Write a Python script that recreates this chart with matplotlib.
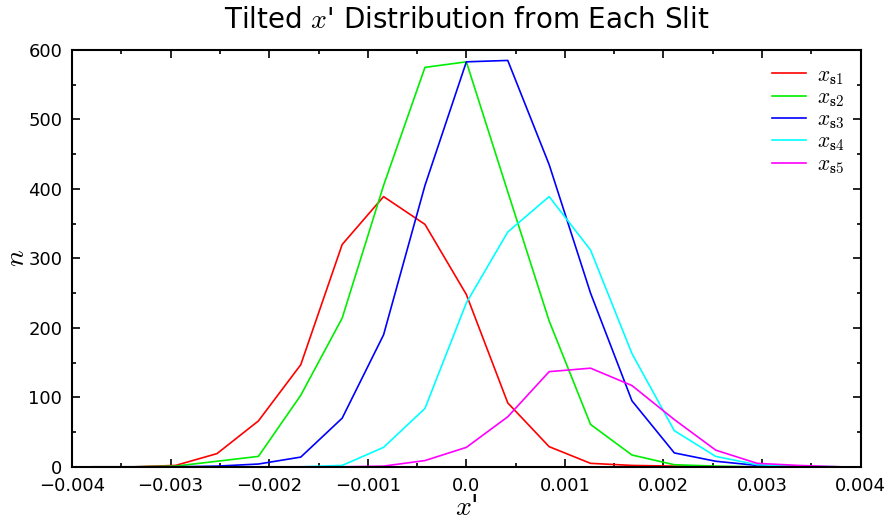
import matplotlib
matplotlib.use("Agg")
import matplotlib.pyplot as plt
from matplotlib.ticker import FixedLocator, FixedFormatter, MultipleLocator

# bin centres of x' (19 bins over -0.004..0.004)
x = [-0.00379, -0.00337, -0.00295, -0.00253, -0.00211, -0.00168, -0.00126,
     -0.00084, -0.00042, 0.0, 0.00042, 0.00084, 0.00126, 0.00168, 0.00211,
     0.00253, 0.00295, 0.00337, 0.00379]

# counts per slit
n_s1 = [0, 0, 2, 19, 66, 147, 320, 389, 349, 248, 92, 29, 5, 2, 1, 0, 0, 0, 0]
n_s2 = [0, 0, 1, 8, 15, 103, 214, 405, 575, 583, 396, 210, 61, 17, 3, 1, 0, 0, 0]
n_s3 = [0, 0, 0, 1, 4, 14, 70, 190, 405, 583, 585, 435, 250, 95, 20, 8, 2, 0, 0]
n_s4 = [0, 0, 0, 0, 0, 0, 2, 28, 84, 236, 338, 389, 312, 163, 52, 15, 3, 1, 0]
n_s5 = [0, 0, 0, 0, 0, 0, 0, 1, 9, 28, 72, 137, 142, 117, 68, 24, 5, 2, 0]

series = [n_s1, n_s2, n_s3, n_s4, n_s5]
labels = [r'$x_{\mathbf{s1}}$', r'$x_{\mathbf{s2}}$', r'$x_{\mathbf{s3}}$',
          r'$x_{\mathbf{s4}}$', r'$x_{\mathbf{s5}}$']
colors = ['#ff0000', '#00ee00', '#0000ff', '#00ffff', '#ff00ff']

xticks = [-0.004, -0.003, -0.002, -0.001, 0.0, 0.001, 0.002, 0.003, 0.004]
xticklabels = ['\u22120.004', '\u22120.003', '\u22120.002', '\u22120.001', '0.0',
               '0.001', '0.002', '0.003', '0.004']
yticks = [0, 100, 200, 300, 400, 500, 600]

plt.rcParams['font.family'] = ['DejaVu Sans']
plt.rcParams['mathtext.fontset'] = 'cm'

fig = plt.figure(figsize=(8.9, 5.21), dpi=100)
ax = fig.add_axes([0.081, 0.104, 0.886, 0.800])

for y, lab, c in zip(series, labels, colors):
    ax.plot(x, y, color=c, lw=1.2, label=lab)

ax.set_xlim(-0.004, 0.004)
ax.set_ylim(0, 600)
ax.xaxis.set_major_locator(FixedLocator(xticks))
ax.xaxis.set_major_formatter(FixedFormatter(xticklabels))
ax.xaxis.set_minor_locator(MultipleLocator(0.0005))
ax.yaxis.set_major_locator(FixedLocator(yticks))
ax.yaxis.set_minor_locator(MultipleLocator(50))
ax.tick_params(which='both', direction='in', top=True, right=True,
               labelsize=13, width=1.2, pad=7)
ax.tick_params(which='major', length=6)
ax.tick_params(which='minor', length=3)
for s in ax.spines.values():
    s.set_linewidth(1.5)

ax.set_title(r"Tilted $x$' Distribution from Each Slit", fontsize=20, pad=16)
ax.set_xlabel(r"$x$'", fontsize=20)
ax.xaxis.set_label_coords(0.5, -0.064)
ax.set_ylabel(r"$n$", fontsize=20)
ax.yaxis.set_label_coords(-0.053, 0.5)

leg = ax.legend(loc='upper right', frameon=False, fontsize=15.5,
                handlelength=1.6, handletextpad=0.5, labelspacing=0.03,
                borderaxespad=0.0, bbox_to_anchor=(0.99, 0.985))

fig.savefig('out.png', dpi=100)
